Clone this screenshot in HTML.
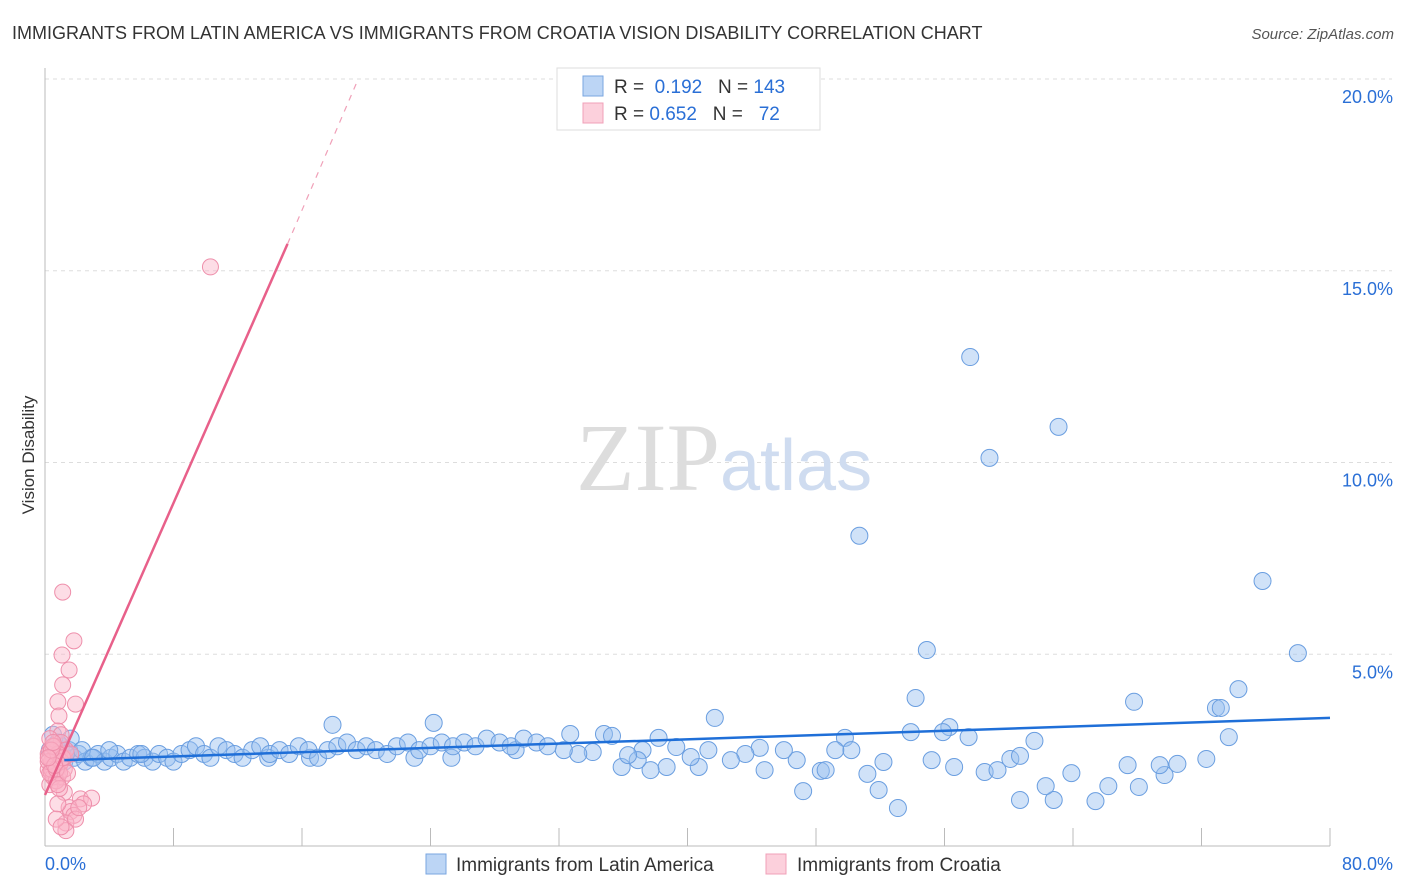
<!DOCTYPE html>
<html><head><meta charset="utf-8"><style>
body{margin:0;background:#fff;font-family:"Liberation Sans",sans-serif;}
svg{display:block}
</style></head><body>
<svg id="c" width="1406" height="892">
<text x="12" y="39" font-size="18" fill="#333">IMMIGRANTS FROM LATIN AMERICA VS IMMIGRANTS FROM CROATIA VISION DISABILITY CORRELATION CHART</text>
<text x="1394" y="39" font-size="15" fill="#555" font-style="italic" text-anchor="end">Source: ZipAtlas.com</text>
<text x="34" y="455" font-size="17" fill="#333" text-anchor="middle" transform="rotate(-90 34 455)">Vision Disability</text>
<g id="grid"></g>
<text x="720" y="490" font-size="96" fill="#ddd" text-anchor="end" font-family="Liberation Serif">ZIP</text>
<text x="720" y="490" font-size="72" fill="#cfdcf0">atlas</text>
<g id="pts"></g>
<g>
<rect x="557" y="68" width="263" height="62" fill="#fff" stroke="#ddd"/>
<rect x="583" y="76" width="20" height="20" fill="#bcd5f5" stroke="#7aa6e0"/>
<rect x="583" y="103" width="20" height="20" fill="#fcd0dc" stroke="#f0a0b8"/>
<text x="614" y="93" font-size="19" fill="#333">R = <tspan fill="#2a6fd6">&#160;0.192</tspan>&#160;&#160;&#160;N = <tspan fill="#2a6fd6">143</tspan></text>
<text x="614" y="120" font-size="19" fill="#333">R = <tspan fill="#2a6fd6">0.652</tspan>&#160;&#160;&#160;N = <tspan fill="#2a6fd6">&#160;&#160;72</tspan></text>
</g>
<g>
<rect x="426" y="854" width="20" height="20" fill="#bcd5f5" stroke="#7aa6e0"/>
<text x="456" y="871" font-size="19" fill="#333">Immigrants from Latin America</text>
<rect x="766" y="854" width="20" height="20" fill="#fcd0dc" stroke="#f0a0b8"/>
<text x="797" y="871" font-size="19" fill="#333">Immigrants from Croatia</text>
</g>
<text x="45" y="870" font-size="18" fill="#2a6fd6">0.0%</text>
<text x="1393" y="870" font-size="18" fill="#2a6fd6" text-anchor="end">80.0%</text>
</svg>
<script>
const yTicks=[5,10,15,20];
const yTickLabels=["5.0%","10.0%","15.0%","20.0%"];
const blueX=[57.6,63.1,58.8,50.7,75.8,78.0,54.9,74.3,54.2,67.8,72.9,73.2,17.9,24.2,41.7,56.3,55.9,53.9,73.7,57.5,61.6,49.8,38.2,32.7,34.8,35.3,
47.2,51.9,53.1,60.7,62.8,65.4,62.3,66.2,68.1,69.7,63.9,51.2,48.3,48.6,44.8,40.7,38.7,37.7,35.9,58.5,59.3,67.4,69.4,70.5,72.3,60.1,60.7,56.6,55.2,52.2,50.2,49.2,46.8,46.0,44.5,43.6,42.7,41.3,40.2,39.3,37.2,36.9,36.3,34.1,33.2,32.3,29.3,25.3,23.0,16.5,13.9,
0.3,0.6,0.9,1.2,1.5,1.8,2.1,2.5,2.9,3.3,3.7,4.1,4.5,4.9,5.3,5.8,6.2,6.7,7.1,7.6,8.0,8.5,9.0,9.4,9.9,10.3,10.8,11.3,11.8,12.3,12.9,13.4,14.0,14.6,15.2,15.8,16.4,17.0,17.6,18.2,18.8,19.4,20.0,20.6,21.3,21.9,22.6,23.3,24.0,24.7,25.4,26.1,26.8,27.5,28.3,29.0,29.8,30.6,31.3,1.0,1.6,2.3,0.5,0.8,1.3,3.0,4.0,6.0];
const blueY=[12.75,10.93,10.12,8.09,6.91,5.03,5.11,4.09,3.86,3.76,3.6,3.6,3.16,3.21,3.34,3.1,2.97,2.97,2.84,2.84,2.74,2.82,2.82,2.92,2.92,2.87,
1.43,1.46,0.99,1.2,1.2,1.17,1.56,1.56,1.54,1.85,1.9,1.88,1.96,1.98,1.98,2.06,2.06,1.98,2.06,1.93,1.98,2.11,2.11,2.14,2.27,2.27,2.35,2.06,2.24,2.19,2.5,2.5,2.24,2.5,2.56,2.4,2.24,2.5,2.32,2.58,2.5,2.24,2.37,2.45,2.4,2.5,2.5,2.3,2.3,2.3,2.3,
2.5,2.3,2.4,2.2,2.5,2.3,2.4,2.2,2.3,2.4,2.2,2.3,2.4,2.2,2.3,2.4,2.3,2.2,2.4,2.3,2.2,2.4,2.5,2.6,2.4,2.3,2.6,2.5,2.4,2.3,2.5,2.6,2.4,2.5,2.4,2.6,2.5,2.3,2.5,2.6,2.7,2.5,2.6,2.5,2.4,2.6,2.7,2.5,2.6,2.7,2.6,2.7,2.6,2.8,2.7,2.6,2.8,2.7,2.6,2.6,2.8,2.5,2.9,2.7,2.4,2.3,2.5,2.4];
const pinkX=[10.3,1.1,1.8,1.06,1.5,1.1,0.8,1.9,0.87,0.8,1.0,2.2,2.9,2.4,1.5,1.6,1.8,1.3,1.9,2.1,1.2,0.8,0.3,0.5,0.7,0.9,1.2,0.4,0.6,0.2,0.5,0.8,1.0,0.3,0.6,0.9,0.4,0.7,0.2,0.5,0.8,1.1,0.3,0.6,0.9,0.4,1.2,0.5,0.7,0.3,0.6,0.9,1.3,0.4,0.2,0.8,1.0,0.5,0.3,0.7,1.1,0.6,0.4,0.9,0.2,0.5,0.8,1.4,1.6,1.3,0.7,1.0];
const pinkY=[15.1,6.62,5.35,4.98,4.59,4.2,3.76,3.7,3.39,3.0,2.9,1.23,1.25,1.1,1.0,0.9,0.8,0.6,0.7,1.0,1.4,1.1,2.8,2.6,2.5,2.4,2.3,2.2,2.1,2.0,1.9,1.8,2.7,2.5,2.3,2.1,1.9,1.7,2.4,2.2,2.0,1.8,1.6,2.6,2.4,2.2,2.0,1.8,1.7,2.3,2.1,1.9,2.5,2.0,2.2,2.4,2.2,2.6,1.9,2.0,2.3,2.1,2.5,1.5,2.3,2.7,1.6,1.9,2.4,0.4,0.7,0.5];
const blueTrend=[[1.2,2.24],[80,3.34]];
const pinkTrend=[[0,1.33],[15.1,15.7],[19.5,20]];
const X0=45,X1=1330,Y0=846,Y20=79;
const sx=v=>X0+(X1-X0)*v/80, sy=v=>Y0-(Y0-Y20)*v/20;
const NS="http://www.w3.org/2000/svg";
const mk=(t,a,p)=>{const e=document.createElementNS(NS,t);for(const k in a)e.setAttribute(k,a[k]);p.appendChild(e);return e;};
const g=document.getElementById('grid');
yTicks.forEach((t,i)=>{
 const l=mk('line',{x1:X0,x2:1392,y1:sy(t),y2:sy(t),stroke:'#ddd','stroke-dasharray':'4 4'},g);
 
 
 const tx=mk('text',{x:1393,y:sy(t)+24,'font-size':18,fill:'#2a6fd6','text-anchor':'end'},g);
 tx.textContent=yTickLabels[i];
 
 
});
const ax=mk('line',{x1:X0,x2:X1,y1:Y0,y2:Y0,stroke:'#bbb'},g);


const ay=mk('line',{x1:X0,x2:X0,y1:68,y2:Y0,stroke:'#bbb'},g);


for(let i=1;i<=10;i++){const t=mk('line',{x1:sx(i*8),x2:sx(i*8),y1:828,y2:Y0,stroke:'#bbb'},g);
 
 }
const p=document.getElementById('pts');
blueX.forEach((x,i)=>{const c=mk('circle',{cx:sx(x),cy:sy(blueY[i]),r:8.5,fill:'rgba(150,190,240,0.45)',stroke:'#6a9ee0','stroke-width':1},p);
 
 });
pinkX.forEach((x,i)=>{const c=mk('circle',{cx:sx(x),cy:sy(pinkY[i]),r:8,fill:'rgba(250,180,200,0.45)',stroke:'#ee8fab','stroke-width':1},p);
 
 });
const bl=mk('line',{x1:sx(blueTrend[0][0]),y1:sy(blueTrend[0][1]),x2:sx(blueTrend[1][0]),y2:sy(blueTrend[1][1]),stroke:'#1f6fd8','stroke-width':2.5},p);


const pl=mk('line',{x1:sx(pinkTrend[0][0]),y1:sy(pinkTrend[0][1]),x2:sx(pinkTrend[1][0]),y2:sy(pinkTrend[1][1]),stroke:'#e8608a','stroke-width':2.5},p);


const pd=mk('line',{x1:sx(pinkTrend[1][0]),y1:sy(pinkTrend[1][1]),x2:sx(pinkTrend[2][0]),y2:sy(pinkTrend[2][1]),stroke:'#f0a0b8','stroke-width':1.2,'stroke-dasharray':'6 6'},p);


</script>
</body></html>
